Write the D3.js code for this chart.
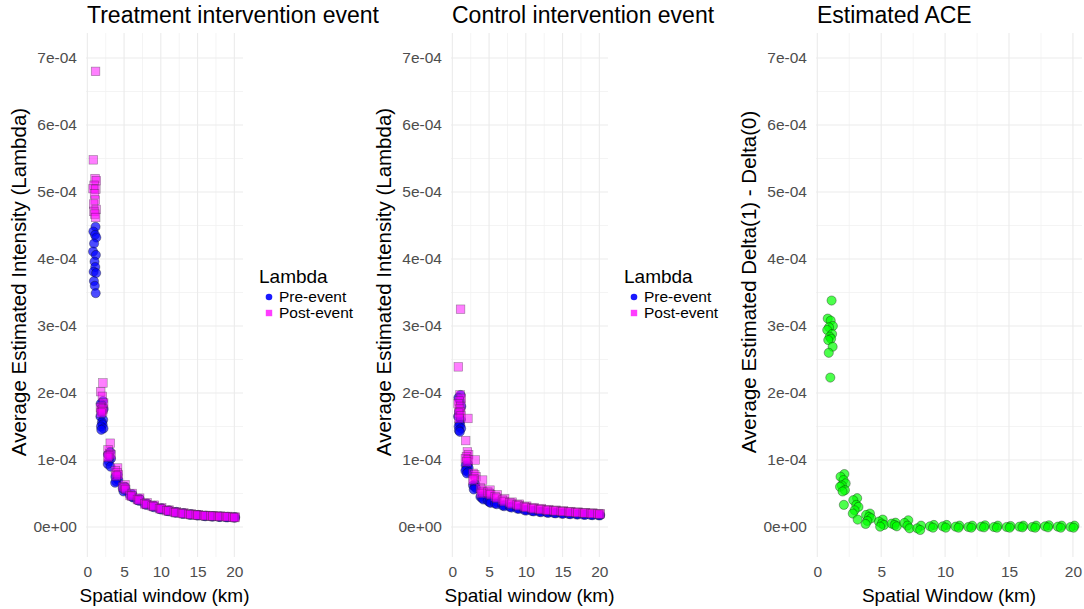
<!DOCTYPE html>
<html>
<head>
<meta charset="utf-8">
<script src="https://cdn.jsdelivr.net/npm/d3@7"></script>
<style>
  body { margin: 0; background: #fff; }
  svg { display: block; font-family: "Liberation Sans", Arial, sans-serif; }
</style>
</head>
<body>
<div id="chart"></div>
<script>
// values are in units of 1e-4, one array per spatial window (1..20 km)
const windows = d3.range(1, 21)

const treatPre = [
  [4.48, 4.41, 4.36, 4.32, 4.23, 4.11, 4.06, 3.96, 3.88, 3.81, 3.79, 3.67, 3.60, 3.49],
  [1.88, 1.84, 1.80, 1.76, 1.72, 1.65, 1.60, 1.56, 1.53, 1.50, 1.47, 1.45],
  [1.12, 1.08, 1.05, 1.02, 0.98, 0.94, 0.90],
  [0.78, 0.75, 0.72, 0.70, 0.68, 0.66],
  [0.60, 0.58, 0.56, 0.55, 0.53],
  [0.49, 0.47, 0.45, 0.44],
  [0.42, 0.40, 0.39],
  [0.35, 0.34, 0.33],
  [0.315, 0.305, 0.295],
  [0.28, 0.27, 0.26],
  [0.25, 0.24, 0.235],
  [0.225, 0.218, 0.212],
  [0.208, 0.20, 0.195],
  [0.192, 0.186, 0.18],
  [0.18, 0.175, 0.17],
  [0.17, 0.165, 0.16],
  [0.163, 0.158, 0.153],
  [0.157, 0.152, 0.148],
  [0.152, 0.147, 0.143],
  [0.146, 0.142, 0.138]
]

const treatPost = [
  [6.80, 5.48, 5.20, 5.17, 5.10, 5.05, 5.04, 4.97, 4.88, 4.82, 4.74, 4.71, 4.67, 4.62],
  [2.15, 2.02, 1.95, 1.85, 1.80, 1.78, 1.76, 1.74, 1.72, 1.70],
  [1.25, 1.15, 1.10, 1.08, 1.06, 1.04],
  [0.88, 0.84, 0.81, 0.78, 0.76],
  [0.63, 0.60, 0.58, 0.56],
  [0.50, 0.47, 0.46],
  [0.43, 0.41, 0.40],
  [0.36, 0.345, 0.335],
  [0.325, 0.313, 0.305],
  [0.285, 0.274, 0.268],
  [0.252, 0.244, 0.238],
  [0.226, 0.219, 0.214],
  [0.21, 0.204, 0.199],
  [0.194, 0.189, 0.185],
  [0.183, 0.179, 0.175],
  [0.172, 0.169, 0.166],
  [0.167, 0.164, 0.161],
  [0.162, 0.159, 0.156],
  [0.157, 0.154, 0.151],
  [0.148, 0.144, 0.141]
]

const controlPre = [
  [1.97, 1.93, 1.88, 1.80, 1.72, 1.65, 1.60, 1.55, 1.52, 1.50, 1.47, 1.44, 1.42],
  [0.94, 0.92, 0.90, 0.88, 0.86, 0.84, 0.82, 0.80],
  [0.64, 0.62, 0.60, 0.58, 0.56],
  [0.47, 0.45, 0.43, 0.41],
  [0.41, 0.39, 0.37, 0.36],
  [0.37, 0.35, 0.34],
  [0.33, 0.32, 0.31],
  [0.31, 0.30, 0.29],
  [0.285, 0.275, 0.27],
  [0.26, 0.25, 0.245],
  [0.245, 0.238, 0.232],
  [0.232, 0.226, 0.22],
  [0.222, 0.216, 0.21],
  [0.214, 0.208, 0.203],
  [0.206, 0.2, 0.196],
  [0.2, 0.195, 0.19],
  [0.194, 0.189, 0.185],
  [0.189, 0.184, 0.18],
  [0.185, 0.18, 0.176],
  [0.18, 0.176, 0.172]
]

const controlPost = [
  [3.25, 2.39, 1.97, 1.92, 1.88, 1.84, 1.80, 1.76, 1.72, 1.70, 1.66, 1.62],
  [1.62, 1.29, 1.12, 1.08, 1.05, 1.02, 1.00, 0.97],
  [1.00, 0.80, 0.78, 0.75, 0.72, 0.70],
  [0.70, 0.58, 0.55, 0.52, 0.50],
  [0.55, 0.52, 0.50, 0.48],
  [0.48, 0.45, 0.43],
  [0.42, 0.40, 0.38],
  [0.37, 0.36, 0.34],
  [0.34, 0.33, 0.315],
  [0.31, 0.30, 0.29],
  [0.29, 0.28, 0.27],
  [0.275, 0.265, 0.258],
  [0.26, 0.252, 0.246],
  [0.25, 0.243, 0.237],
  [0.24, 0.234, 0.228],
  [0.23, 0.225, 0.22],
  [0.222, 0.217, 0.212],
  [0.214, 0.21, 0.205],
  [0.208, 0.203, 0.199],
  [0.2, 0.195, 0.19]
]

const ace = [
  [3.38, 3.11, 3.08, 3.00, 2.98, 2.94, 2.88, 2.84, 2.81, 2.79, 2.69, 2.60, 2.23],
  [0.79, 0.75, 0.70, 0.65, 0.62, 0.60, 0.55, 0.53, 0.33],
  [0.43, 0.40, 0.33, 0.30, 0.25, 0.20, 0.11],
  [0.20, 0.18, 0.15, 0.13, 0.09, 0.045],
  [0.11, 0.08, 0.05, 0.03, 0.005],
  [0.064, 0.05, 0.03, 0.01],
  [0.10, 0.06, 0.02, -0.02],
  [0.02, -0.02, -0.045],
  [0.03, 0.01, -0.01],
  [0.03, 0.01, -0.01],
  [0.02, 0.005, -0.01],
  [0.02, 0.0, -0.01],
  [0.025, 0.005, -0.005],
  [0.02, 0.0, -0.01],
  [0.015, 0.0, -0.01],
  [0.02, 0.005, -0.005],
  [0.02, 0.0, -0.01],
  [0.025, 0.01, -0.005],
  [0.02, 0.005, -0.01],
  [0.02, 0.0, -0.01]
]

// horizontal jitter (km) applied to the replicates of each window
const jitter = [0.12, -0.18, 0.05, 0.22, -0.08, -0.22, 0.16, -0.02, 0.08, -0.14, 0.2, -0.1, 0.02, 0.14]

const yTicks = [0, 1, 2, 3, 4, 5, 6, 7]
const yTickLabels = ['0e+00', '1e-04', '2e-04', '3e-04', '4e-04', '5e-04', '6e-04', '7e-04']
const yMinor = [0.5, 1.5, 2.5, 3.5, 4.5, 5.5, 6.5]
const xTicks = [0, 5, 10, 15, 20]
const xMinor = [2.5, 7.5, 12.5, 17.5]
const legendLabels = ['Pre-event', 'Post-event']

const width = 1084
const height = 609
const svg = d3.select('#chart').append('svg').attr('width', width).attr('height', height)

const y = d3.scaleLinear().domain([-0.448, 7.373]).range([557, 33])

function points (series) {
  const out = []
  series.forEach((vals, wi) => {
    vals.forEach((v, i) => out.push({ x: windows[wi] + jitter[i % jitter.length], v }))
  })
  return out
}

function panel (opts) {
  const x = d3.scaleLinear().domain(opts.xDomain).range(opts.xRange)
  const g = svg.append('g')

  // grid
  g.selectAll('.ymin').data(yMinor).enter().append('line')
    .attr('x1', opts.xRange[0]).attr('x2', opts.xRange[1])
    .attr('y1', d => y(d)).attr('y2', d => y(d))
    .attr('stroke', '#f1f1f1').attr('stroke-width', 0.8)
  g.selectAll('.xmin').data(xMinor).enter().append('line')
    .attr('y1', 33).attr('y2', 557)
    .attr('x1', d => x(d)).attr('x2', d => x(d))
    .attr('stroke', '#f1f1f1').attr('stroke-width', 0.8)
  g.selectAll('.ymaj').data(yTicks).enter().append('line')
    .attr('x1', opts.xRange[0]).attr('x2', opts.xRange[1])
    .attr('y1', d => y(d)).attr('y2', d => y(d))
    .attr('stroke', '#ebebeb').attr('stroke-width', 1.1)
  g.selectAll('.xmaj').data(xTicks).enter().append('line')
    .attr('y1', 33).attr('y2', 557)
    .attr('x1', d => x(d)).attr('x2', d => x(d))
    .attr('stroke', '#ebebeb').attr('stroke-width', 1.1)

  // axes
  const yAxis = g.append('g')
    .attr('transform', 'translate(' + opts.xRange[0] + ',0)')
    .call(d3.axisLeft(y).tickValues(yTicks).tickSize(0).tickPadding(9)
      .tickFormat((d, i) => yTickLabels[i]))
  yAxis.select('.domain').remove()
  yAxis.selectAll('text').attr('fill', '#4d4d4d').style('font-size', '15.5px')
    .style('font-family', '"Liberation Sans", Arial, sans-serif')

  const xAxis = g.append('g')
    .attr('transform', 'translate(0,557)')
    .call(d3.axisBottom(x).tickValues(xTicks).tickSize(0).tickPadding(9))
  xAxis.select('.domain').remove()
  xAxis.selectAll('text').attr('fill', '#4d4d4d').style('font-size', '15.5px')
    .style('font-family', '"Liberation Sans", Arial, sans-serif')

  // titles
  g.append('text').attr('x', opts.xRange[0] + 1).attr('y', 23)
    .style('font-size', '23px').text(opts.title)
  g.append('text')
    .attr('x', (opts.xRange[0] + opts.xRange[1]) / 2).attr('y', 602)
    .attr('text-anchor', 'middle').style('font-size', '19px').text(opts.xLabel)
  g.append('text')
    .attr('transform', 'translate(' + opts.yLabelX + ',' + 282 + ') rotate(-90)')
    .attr('text-anchor', 'middle').style('font-size', '20.5px').text(opts.yLabel)

  // marks
  opts.layers.forEach(layer => {
    const pts = points(layer.data)
    if (layer.shape === 'square') {
      g.append('g').selectAll('rect').data(pts).enter().append('rect')
        .attr('x', d => x(d.x) - 4.3).attr('y', d => y(d.v) - 4.3)
        .attr('width', 8.6).attr('height', 8.6)
        .attr('fill', layer.color).attr('fill-opacity', layer.alpha)
        .attr('stroke', '#333').attr('stroke-opacity', 0.5).attr('stroke-width', 0.6)
    } else {
      g.append('g').selectAll('circle').data(pts).enter().append('circle')
        .attr('cx', d => x(d.x)).attr('cy', d => y(d.v)).attr('r', 4.6)
        .attr('fill', layer.color).attr('fill-opacity', layer.alpha)
        .attr('stroke', '#111').attr('stroke-opacity', 0.6).attr('stroke-width', 0.6)
    }
  })

  // legend
  if (opts.legendX) {
    const lg = g.append('g').attr('transform', 'translate(' + opts.legendX + ',0)')
    lg.append('text').attr('x', 0).attr('y', 283).style('font-size', '19px').text('Lambda')
    legendLabels.forEach((lab, i) => {
      const cy = 297 + i * 16
      if (i === 0) {
        lg.append('circle').attr('cx', 10).attr('cy', cy).attr('r', 3.3).attr('fill', '#1a1aff')
      } else {
        lg.append('rect').attr('x', 6.8).attr('y', cy - 3.2).attr('width', 6.4).attr('height', 6.4)
          .attr('fill', '#ff3dff')
      }
      lg.append('text').attr('x', 20).attr('y', cy + 5).style('font-size', '15.5px').text(lab)
    })
  }
}

panel({
  title: 'Treatment intervention event',
  xLabel: 'Spatial window (km)',
  yLabel: 'Average Estimated Intensity (Lambda)',
  yLabelX: 26,
  xDomain: [-0.18, 21.18],
  xRange: [86, 243],
  legendX: 259,
  layers: [
    { data: treatPre, shape: 'circle', color: '#0000ff', alpha: 0.7 },
    { data: treatPost, shape: 'square', color: '#ff00ff', alpha: 0.5 }
  ]
})

panel({
  title: 'Control intervention event',
  xLabel: 'Spatial window (km)',
  yLabel: 'Average Estimated Intensity (Lambda)',
  yLabelX: 391,
  xDomain: [-0.18, 21.18],
  xRange: [451, 608],
  legendX: 624,
  layers: [
    { data: controlPre, shape: 'circle', color: '#0000ff', alpha: 0.7 },
    { data: controlPost, shape: 'square', color: '#ff00ff', alpha: 0.5 }
  ]
})

panel({
  title: 'Estimated ACE',
  xLabel: 'Spatial Window (km)',
  yLabel: 'Average Estimated Delta(1) - Delta(0)',
  yLabelX: 756,
  xDomain: [-0.1, 20.71],
  xRange: [816, 1082],
  layers: [
    { data: ace, shape: 'circle', color: '#00ff00', alpha: 0.7 }
  ]
})
</script>
</body>
</html>
